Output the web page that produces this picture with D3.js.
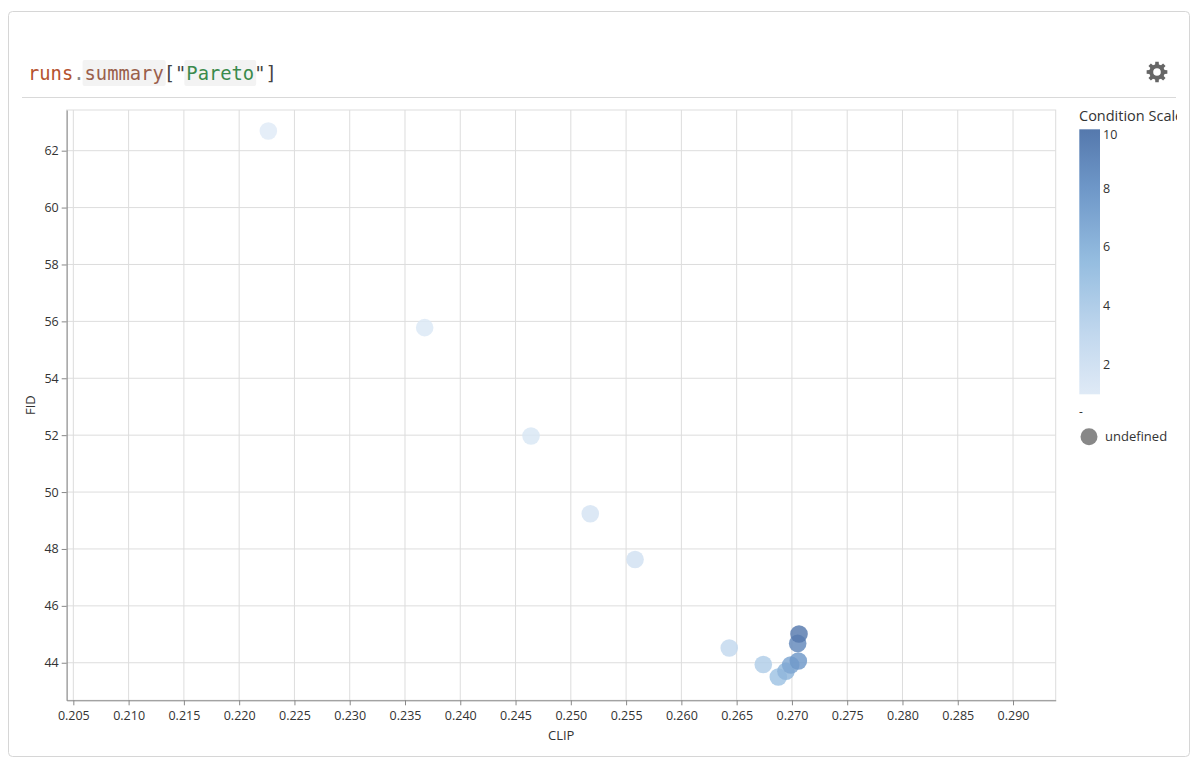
<!DOCTYPE html>
<html>
<head>
<meta charset="utf-8">
<script src="https://cdn.jsdelivr.net/npm/d3@7"></script>
<style>
  html, body { margin: 0; padding: 0; background: #fff; }
  svg { display: block; }
</style>
</head>
<body>
<svg id="chart" width="1200" height="771"></svg>
<script>
// ---- data ----
const clip = [0.22264, 0.23678, 0.24640, 0.25176, 0.25581, 0.26433, 0.26741, 0.26877, 0.26946, 0.26989, 0.27058, 0.27052, 0.27064];
const fid  = [62.69, 55.78, 51.97, 49.24, 47.63, 44.52, 43.94, 43.50, 43.70, 43.92, 44.06, 44.68, 45.01];
const conditionScale = [1, 1.25, 1.5, 1.75, 2, 3, 4, 5, 6, 7, 8, 9, 10];
const xTicks = [0.205,0.210,0.215,0.220,0.225,0.230,0.235,0.240,0.245,0.250,0.255,0.260,0.265,0.270,0.275,0.280,0.285,0.290];
const yTicks = [44,46,48,50,52,54,56,58,60,62];
const legendTicks = [10,8,6,4,2];
const xDomain = [0.20440, 0.29386];
const yDomain = [42.68, 63.43];
const colorStops = [1, 3, 5.5, 8, 10];
const colorRange = ["#dfeaf6", "#c2d8ee", "#95bde0", "#6e97c8", "#5579ad"];

(function() {
const svg = d3.select("#chart");
const font = "'Open Sans', Lato, sans-serif";

// card
svg.append("rect").attr("x", 8.5).attr("y", 11.5).attr("width", 1181).attr("height", 745)
  .attr("rx", 4).attr("fill", "#fff").attr("stroke", "#d6d6d6");
svg.append("line").attr("x1", 22).attr("x2", 1176).attr("y1", 97.5).attr("y2", 97.5)
  .attr("stroke", "#d9d9d9");

// title
const bgLayer = svg.append("g");
const title = svg.append("text").attr("x", 28).attr("y", 80)
  .attr("font-family", "'DejaVu Sans Mono', 'Liberation Mono', monospace").attr("font-size", 18.8);
const parts = [
  ["runs", "#b5532f", false], [".", "#888", false], ["summary", "#9a5f4b", true],
  ["[\"", "#444", false], ["Pareto", "#3a8a4c", true], ["\"]", "#444", false]
];
parts.forEach(p => title.append("tspan").attr("fill", p[1]).attr("class", p[2] ? "bg" : "nb").text(p[0]));
title.selectAll("tspan.bg").each(function() {
  const n = this.getNumberOfChars();
  const s = this.getStartPositionOfChar(0);
  const e = this.getEndPositionOfChar(n - 1);
  bgLayer.append("rect").attr("x", s.x - 2).attr("y", 60).attr("width", e.x - s.x + 4).attr("height", 26)
    .attr("rx", 2).attr("fill", "#f3f3f3");
});

// gear icon
(function() {
  const cx = 1157, cy = 72, teeth = 8, rO = 10.5, rI = 7.8;
  const pts = [];
  for (let i = 0; i < teeth; i++) {
    const a0 = (i / teeth) * 2 * Math.PI;
    const w = Math.PI / teeth;
    [[a0 - w * 0.42, rO], [a0 + w * 0.42, rO], [a0 + w * 0.62, rI], [a0 + w * 1.38, rI]].forEach(([a, r]) =>
      pts.push([cx + r * Math.cos(a), cy + r * Math.sin(a)]));
  }
  const path = "M" + pts.map(p => p.join(",")).join("L") + "Z" +
    `M${cx + 3.8},${cy} A3.8,3.8 0 1,0 ${cx - 3.8},${cy} A3.8,3.8 0 1,0 ${cx + 3.8},${cy}Z`;
  svg.append("path").attr("d", path).attr("fill", "#666").attr("fill-rule", "evenodd");
})();

// plot
const pL = 66.7, pR = 1055.7, pT = 110, pB = 700.3;
const x = d3.scaleLinear().domain(xDomain).range([pL, pR]);
const y = d3.scaleLinear().domain(yDomain).range([pB, pT]);
const color = d3.scaleLinear().domain(colorStops).range(colorRange);

const g = svg.append("g");
g.append("rect").attr("x", pL).attr("y", pT).attr("width", pR - pL).attr("height", pB - pT)
  .attr("fill", "none").attr("stroke", "#ddd");
g.append("g").selectAll("line").data(xTicks).join("line")
  .attr("x1", d => x(d)).attr("x2", d => x(d)).attr("y1", pT).attr("y2", pB)
  .attr("stroke", "#ddd");
g.append("g").selectAll("line").data(yTicks).join("line")
  .attr("x1", pL).attr("x2", pR).attr("y1", d => y(d)).attr("y2", d => y(d))
  .attr("stroke", "#ddd");

const xAxis = g.append("g").attr("transform", `translate(0,${pB})`)
  .call(d3.axisBottom(x).tickValues(xTicks).tickFormat(d3.format(".3f")).tickSize(5).tickSizeOuter(0));
const yAxis = g.append("g").attr("transform", `translate(${pL},0)`)
  .call(d3.axisLeft(y).tickValues(yTicks).tickFormat(d3.format("d")).tickSize(5).tickSizeOuter(0));
[xAxis, yAxis].forEach(a => {
  a.select(".domain").attr("stroke", "#888");
  a.selectAll(".tick line").attr("stroke", "#888");
  a.selectAll(".tick text").attr("fill", "#333").attr("font-family", font).attr("font-size", 12.5);
});
xAxis.selectAll(".tick text").attr("dy", "0.95em");
yAxis.selectAll(".tick text").attr("x", -8);

svg.append("text").attr("x", (pL + pR) / 2).attr("y", 740).attr("text-anchor", "middle")
  .attr("font-family", font).attr("font-size", 13).attr("fill", "#333").text("CLIP");
svg.append("text").attr("transform", `translate(35,${(pT + pB) / 2}) rotate(-90)`).attr("text-anchor", "middle")
  .attr("font-family", font).attr("font-size", 13).attr("fill", "#333").text("FID");

const data = clip.map((c, i) => ({ x: c, y: fid[i], s: conditionScale[i] }));
g.append("g").selectAll("circle").data(data).join("circle")
  .attr("cx", d => x(d.x)).attr("cy", d => y(d.y)).attr("r", 8.8)
  .attr("fill", d => color(d.s)).attr("fill-opacity", 0.82);

// legend
const defs = svg.append("defs");
defs.append("clipPath").attr("id", "legclip").append("rect")
  .attr("x", 1060).attr("y", 98).attr("width", 117).attr("height", 400);
const grad = defs.append("linearGradient").attr("id", "lg").attr("x1", 0).attr("y1", 1).attr("x2", 0).attr("y2", 0);
colorStops.forEach((s, i) => grad.append("stop")
  .attr("offset", (s - colorStops[0]) / (colorStops[colorStops.length - 1] - colorStops[0]))
  .attr("stop-color", colorRange[i]));

const leg = svg.append("g").attr("clip-path", "url(#legclip)");
leg.append("text").attr("x", 1079).attr("y", 121).attr("font-family", font).attr("font-size", 14.5)
  .attr("fill", "#333").text("Condition Scale");
const lgTop = 129.3, lgBot = 394.3;
const ly = d3.scaleLinear().domain([colorStops[0], colorStops[colorStops.length - 1]]).range([lgBot, lgTop]);
leg.append("rect").attr("x", 1079.3).attr("y", lgTop).attr("width", 20.7).attr("height", lgBot - lgTop)
  .attr("fill", "url(#lg)");
leg.selectAll("text.lt").data(legendTicks).join("text").attr("class", "lt")
  .attr("x", 1103).attr("y", d => ly(d))
  .attr("dy", d => d === 10 ? "0.78em" : "0.35em")
  .attr("font-family", font).attr("font-size", 12.5).attr("fill", "#333").text(d => d);
leg.append("text").attr("x", 1079).attr("y", 416).attr("font-family", font).attr("font-size", 12)
  .attr("fill", "#333").text("-");
leg.append("circle").attr("cx", 1089).attr("cy", 436.7).attr("r", 8.5).attr("fill", "#888");
leg.append("text").attr("x", 1105).attr("y", 441).attr("font-family", font).attr("font-size", 13)
  .attr("fill", "#333").text("undefined");
})();
</script>
</body>
</html>
